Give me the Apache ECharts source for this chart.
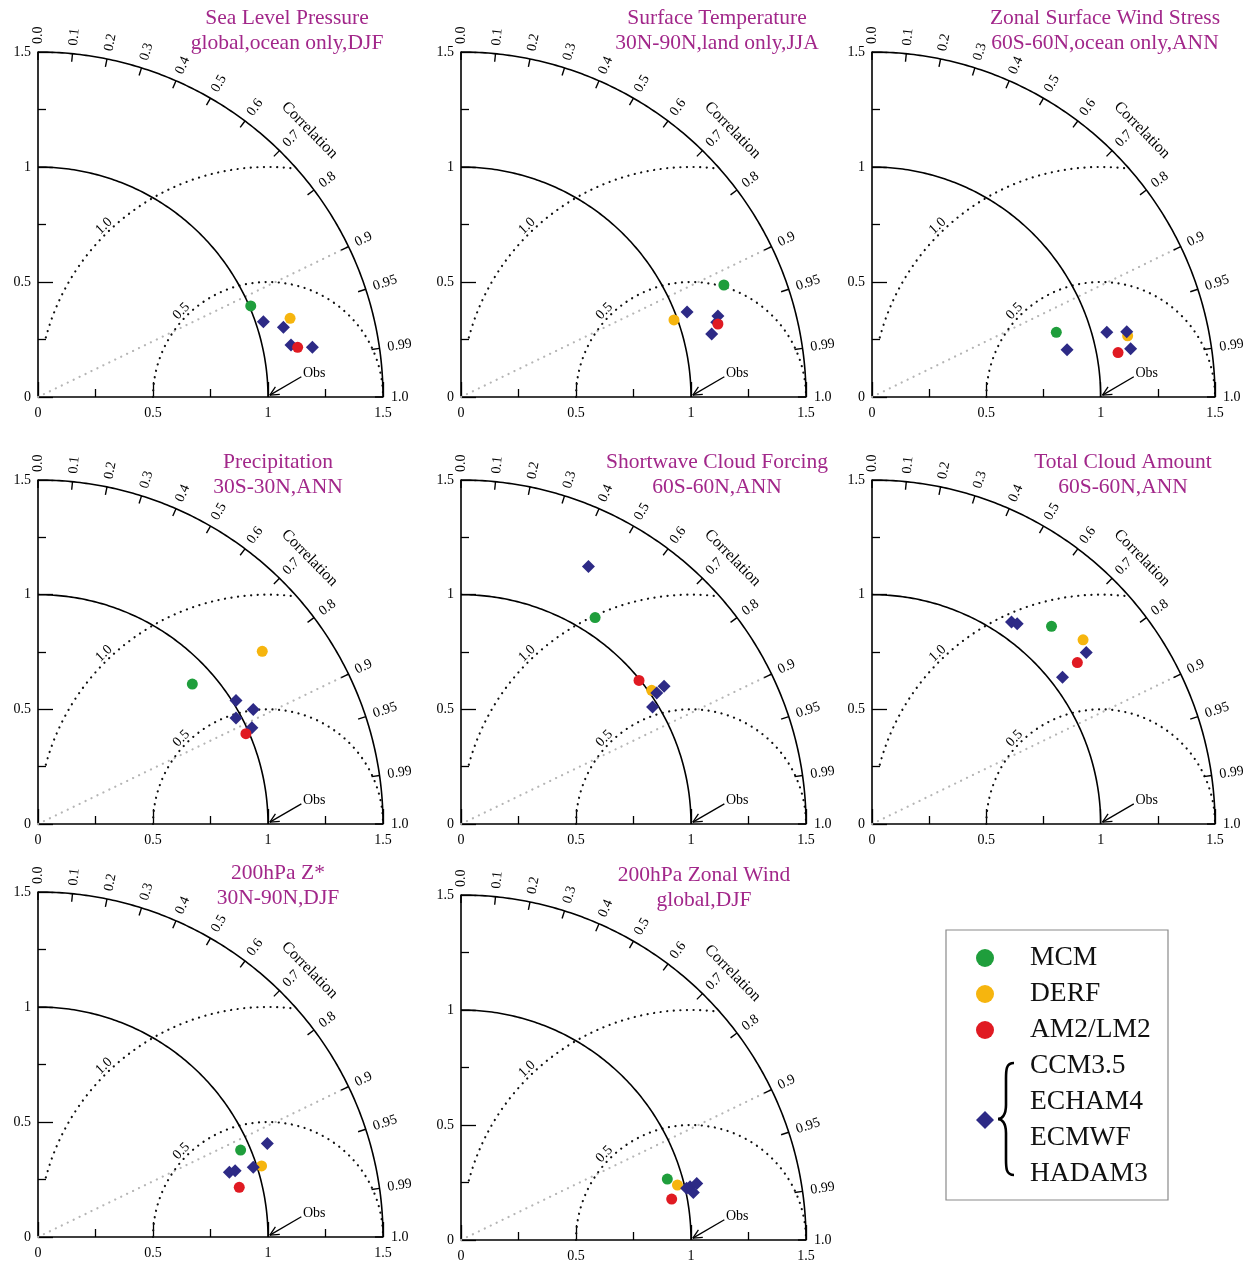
<!DOCTYPE html>
<html><head><meta charset="utf-8">
<script src="https://cdn.jsdelivr.net/npm/echarts@6/dist/echarts.min.js"></script>
<style>html,body{margin:0;padding:0;background:#fff}#c{width:1251px;height:1264px}</style>
</head><body><div id="c"></div>
<script>
// ---- data ----
const panelTitles = [
  'Sea Level Pressure\nglobal,ocean only,DJF',
  'Surface Temperature\n30N-90N,land only,JJA',
  'Zonal Surface Wind Stress\n60S-60N,ocean only,ANN',
  'Precipitation\n30S-30N,ANN',
  'Shortwave Cloud Forcing\n60S-60N,ANN',
  'Total Cloud Amount\n60S-60N,ANN',
  '200hPa Z*\n30N-90N,DJF',
  '200hPa Zonal Wind\nglobal,DJF'
];
// points as [x, y] in normalized standard deviation units (x = sigma*R, y = sigma*sin(acos R))
const mcm  = [[0.925,0.396],[1.143,0.487],[0.806,0.281],[0.671,0.610],[0.583,0.900],[0.785,0.862],[0.881,0.378],[0.897,0.265]];
const derf = [[1.096,0.342],[0.926,0.335],[1.118,0.266],[0.975,0.753],[0.829,0.583],[0.923,0.803],[0.972,0.309],[0.941,0.239]];
const am2  = [[1.129,0.216],[1.117,0.317],[1.076,0.193],[0.904,0.394],[0.774,0.626],[0.898,0.704],[0.875,0.216],[0.916,0.178]];
const otherModels = [
  [[0.980,0.327],[1.067,0.303],[1.100,0.226],[1.193,0.216]],
  [[0.983,0.370],[1.117,0.352],[1.112,0.325],[1.090,0.274]],
  [[0.853,0.205],[1.027,0.281],[1.114,0.284],[1.131,0.210]],
  [[0.861,0.539],[0.936,0.499],[0.861,0.462],[0.930,0.420]],
  [[0.554,1.123],[0.883,0.601],[0.851,0.571],[0.833,0.510]],
  [[0.610,0.881],[0.635,0.873],[0.937,0.748],[0.833,0.640]],
  [[0.832,0.281],[0.857,0.288],[0.936,0.303],[0.997,0.407]],
  [[0.996,0.232],[1.025,0.246],[1.010,0.207],[0.981,0.225]]
];
const corrTicks  = [0,0.1,0.2,0.3,0.4,0.5,0.6,0.7,0.8,0.9,0.95,0.99,1.0];
const corrLabels = ['0.0','0.1','0.2','0.3','0.4','0.5','0.6','0.7','0.8','0.9','0.95','0.99','1.0'];
const rmsLevels = [0.5, 1.0];
const rmsLabels = ['0.5','1.0'];
const refCorr = 0.9;
const OUTER = 1.5;
const modelNames = ['MCM','DERF','AM2/LM2','CCM3.5\nECHAM4\nECMWF\nHADAM3'];
const modelColors = ['#1f9e3c','#f6b50e','#e01a22','#2d2a86'];

// ---- layout ----
const grids = [[38,52,345,345],[461,52,345,345],[872,52,343,345],
               [38,480,345,344],[461,480,345,344],[872,480,343,344],
               [38,892,345,345],[461,895,345,345]];
const titlePos = [[287,6],[717,6],[1105,6],[278,450],[717,450],[1123,450],[278,861],[704,863]];
const SERIF = '"Liberation Serif", "Times New Roman", serif';

function decor(params, api){
  const c = (x,y)=>api.coord([x,y]);
  const D = Math.PI/180;
  const arc=(cx,r,a0,a1,n)=>{const p=[];for(let i=0;i<=n;i++){const a=(a0+(a1-a0)*i/n)*D;p.push(c(cx+r*Math.cos(a), r*Math.sin(a)));}return p;};
  const solid={stroke:'#000',lineWidth:1.6,fill:null};
  const dot={stroke:'#111',lineWidth:2.2,lineDash:[0.1,6.5],lineCap:'round',fill:null};
  const gray={stroke:'#b5b5b5',lineWidth:2.2,lineDash:[0.1,6.5],lineCap:'round',fill:null};
  const ch=[];
  const tr=Math.acos(refCorr);
  const g0=c(0,0), g1=c(OUTER*Math.cos(tr),OUTER*Math.sin(tr));
  ch.push({type:'line',shape:{x1:g0[0],y1:g0[1],x2:g1[0],y2:g1[1]},style:gray});
  rmsLevels.forEach((r,i)=>{
    const xi=(OUTER*OUTER - r*r + 1)/2;
    const aEnd = (xi-1)/r>=1 ? 0 : Math.acos((xi-1)/r)/D;
    const aStart = r>=1 ? 165 : 180;
    ch.push({type:'polyline',shape:{points:arc(1,r,aStart,aEnd,200)},style:dot});
    const la = r>=1 ? 133.8 : 135.3;
    const lr = r + 0.03;
    const p=c(1+lr*Math.cos(la*D), lr*Math.sin(la*D));
    ch.push({type:'text',x:p[0],y:p[1],rotation:(la-90)*D,style:{text:rmsLabels[i],fill:'#000',font:'14px '+SERIF,align:'center',verticalAlign:'middle'}});
  });
  ch.push({type:'polyline',shape:{points:arc(0,OUTER,0,90,180)},style:solid});
  ch.push({type:'polyline',shape:{points:arc(0,1,0,90,140)},style:solid});
  corrTicks.forEach((v,i)=>{
    const t=Math.acos(v);
    const a=c(OUTER*Math.cos(t),OUTER*Math.sin(t)), b=c((OUTER-0.035)*Math.cos(t),(OUTER-0.035)*Math.sin(t));
    ch.push({type:'line',shape:{x1:a[0],y1:a[1],x2:b[0],y2:b[1]},style:{stroke:'#000',lineWidth:1.4}});
    const p=c(1.535*Math.cos(t),1.535*Math.sin(t));
    ch.push({type:'text',x:p[0],y:p[1],rotation:t,style:{text:corrLabels[i],fill:'#000',font:'14px '+SERIF,align:'left',verticalAlign:'middle'}});
  });
  const ca=44.5*D, cp=c(1.655*Math.cos(ca),1.655*Math.sin(ca));
  ch.push({type:'text',x:cp[0],y:cp[1],rotation:ca-Math.PI/2,style:{text:'Correlation',fill:'#000',font:'16px '+SERIF,align:'center',verticalAlign:'middle'}});
  const tip=c(1.008,0.008), tail=c(1.145,0.088);
  ch.push({type:'line',shape:{x1:tip[0],y1:tip[1],x2:tail[0],y2:tail[1]},style:{stroke:'#000',lineWidth:1.3}});
  const dx=tail[0]-tip[0], dy=tail[1]-tip[1], L=Math.hypot(dx,dy), ux=dx/L, uy=dy/L;
  [0.45,-0.45].forEach(s=>{
    const cs=Math.cos(s), sn=Math.sin(s);
    const vx=ux*cs-uy*sn, vy=ux*sn+uy*cs;
    ch.push({type:'line',shape:{x1:tip[0],y1:tip[1],x2:tip[0]+vx*10,y2:tip[1]+vy*10},style:{stroke:'#000',lineWidth:1.3}});
  });
  const op=c(1.152,0.105);
  ch.push({type:'text',x:op[0],y:op[1],style:{text:'Obs',fill:'#000',font:'14px '+SERIF,align:'left',verticalAlign:'middle'}});
  return {type:'group',children:ch};
}

const axisBase = {
  type:'value',min:0,max:1.5,interval:0.5,
  axisLine:{onZero:false,lineStyle:{color:'#000',width:1.6}},
  axisTick:{inside:true,length:15,lineStyle:{color:'#000',width:1.3}},
  minorTick:{show:true,splitNumber:2,length:8,lineStyle:{color:'#000',width:1.3}},
  splitLine:{show:false}
};
const xLabel = {color:'#000',fontFamily:SERIF,fontSize:14,margin:9};
const yLabel = {color:'#000',fontFamily:SERIF,fontSize:14,margin:7};

const series=[];
grids.forEach((g,i)=>{
  series.push({type:'custom',xAxisIndex:i,yAxisIndex:i,data:[[0,0]],renderItem:decor,silent:true,clip:false,z:1});
  const sets=[[mcm[i]],[derf[i]],otherModels[i],[am2[i]]];
  const idx=[0,1,3,2];
  sets.forEach((d,k)=>{
    const m=idx[k];
    series.push({type:'scatter',name:modelNames[m],xAxisIndex:i,yAxisIndex:i,data:d,
      symbol:m===3?'diamond':'circle',symbolSize:m===3?13:11,
      itemStyle:{color:modelColors[m],opacity:1},z:3+k});
  });
});

const B = {stroke:'#000',lineWidth:2.6,fill:null};
const option = {
  animation:false,
  backgroundColor:'#fff',
  title: panelTitles.map((t,i)=>({text:t,left:titlePos[i][0],top:titlePos[i][1],textAlign:'center',padding:0,
    textStyle:{color:'#a2278a',fontFamily:SERIF,fontSize:21.5,fontWeight:'normal',lineHeight:25}})),
  grid: grids.map(g=>({left:g[0],top:g[1],width:g[2],height:g[3]})),
  xAxis: grids.map((g,i)=>Object.assign({gridIndex:i,axisLabel:xLabel},axisBase)),
  yAxis: grids.map((g,i)=>Object.assign({gridIndex:i,axisLabel:yLabel},axisBase)),
  legend:{
    left:971, top:935, orient:'vertical', itemGap:0, itemWidth:18, itemHeight:18, selectedMode:false,
    data: modelNames.map((n,k)=>({name:n,icon:k===3?'diamond':'circle'})),
    textStyle:{fontFamily:SERIF,fontSize:27.5,color:'#111',lineHeight:36,padding:[0,0,0,31]}
  },
  graphic:[
    {type:'rect',shape:{x:946,y:930,width:222,height:270},style:{fill:null,stroke:'#8a8a8a',lineWidth:1.2}},
    {type:'bezierCurve',shape:{x1:1014,y1:1063,cpx1:1006,cpy1:1063,cpx2:1006,cpy2:1070,x2:1006,y2:1079},style:B},
    {type:'line',shape:{x1:1006,y1:1079,x2:1006,y2:1105},style:B},
    {type:'bezierCurve',shape:{x1:1006,y1:1105,cpx1:1006,cpy1:1115,cpx2:1002,cpy2:1119,x2:998,y2:1119},style:B},
    {type:'bezierCurve',shape:{x1:998,y1:1119,cpx1:1002,cpy1:1119,cpx2:1006,cpy2:1123,x2:1006,y2:1133},style:B},
    {type:'line',shape:{x1:1006,y1:1133,x2:1006,y2:1159},style:B},
    {type:'bezierCurve',shape:{x1:1006,y1:1159,cpx1:1006,cpy1:1168,cpx2:1006,cpy2:1175,x2:1014,y2:1175},style:B}
  ],
  series
};
const chart = echarts.init(document.getElementById('c'),null,{renderer:'canvas'});
chart.setOption(option);
</script></body></html>
